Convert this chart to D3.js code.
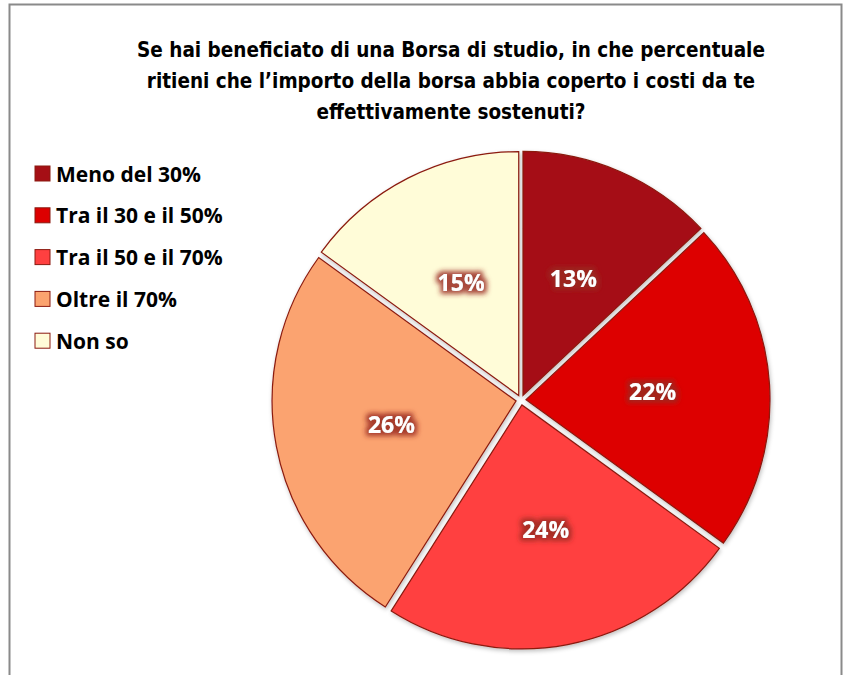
<!DOCTYPE html>
<html>
<head>
<meta charset="utf-8">
<script src="https://cdn.jsdelivr.net/npm/d3@7"></script>
<style>
  body { margin: 0; background: #fff; }
  svg { display: block; }
</style>
</head>
<body>
<svg id="chart" width="845" height="675"></svg>
<script>
// Data
var categories = ["Meno del 30%", "Tra il 30 e il 50%", "Tra il 50 e il 70%", "Oltre il 70%", "Non so"];
var values = [13, 22, 24, 26, 15];
var colors = ["#a50f15", "#dd0000", "#ff4040", "#fba36f", "#fffcd8"];
var titleLines = [
  "Se hai beneficiato di una Borsa di studio, in che percentuale",
  "ritieni che l\u2019importo della borsa abbia coperto i costi da te",
  "effettivamente sostenuti?"
];

var w = 845, h = 675;
var cx = 521, cy = 400, r = 244;
var explode = 5;

var svg = d3.select("#chart");

// frame around the chart (open at the bottom)
svg.append("path")
  .attr("d", "M9.5,675 V4.5 H841.5 V675")
  .attr("fill", "none")
  .attr("stroke", "#8a8a8a")
  .attr("stroke-width", 2);

// filter for the glow behind the slice labels
var defs = svg.append("defs");
var glow = defs.append("filter").attr("id", "glow")
  .attr("x", "-30%").attr("y", "-50%").attr("width", "160%").attr("height", "200%");
glow.append("feMorphology").attr("in", "SourceAlpha").attr("operator", "dilate").attr("radius", 2.5).attr("result", "d");
glow.append("feGaussianBlur").attr("in", "d").attr("stdDeviation", 2.5).attr("result", "b");
glow.append("feFlood").attr("flood-color", "#9a2a22").attr("flood-opacity", 0.85);
glow.append("feComposite").attr("in2", "b").attr("operator", "in").attr("result", "s");
var merge = glow.append("feMerge");
merge.append("feMergeNode").attr("in", "s");
merge.append("feMergeNode").attr("in", "SourceGraphic");

// soft bevel for slices
var bevel = defs.append("filter").attr("id", "bevel");
bevel.append("feGaussianBlur").attr("in", "SourceAlpha").attr("stdDeviation", 2).attr("result", "blur");
bevel.append("feOffset").attr("in", "blur").attr("dx", 1).attr("dy", 2).attr("result", "off");
bevel.append("feFlood").attr("flood-color", "#000").attr("flood-opacity", 0.25);
bevel.append("feComposite").attr("in2", "off").attr("operator", "in").attr("result", "shadow");
var bm = bevel.append("feMerge");
bm.append("feMergeNode").attr("in", "shadow");
bm.append("feMergeNode").attr("in", "SourceGraphic");

// Title
svg.append("text")
  .attr("x", 451)
  .attr("y", 57)
  .attr("text-anchor", "middle")
  .style("font-family", "'Liberation Sans Narrow', 'DejaVu Sans Condensed', sans-serif")
  .style("font-weight", "bold")
  .style("font-size", "20.5px")
  .attr("fill", "#000")
  .selectAll("tspan")
  .data(titleLines)
  .enter()
  .append("tspan")
  .attr("x", 451)
  .attr("dy", function (d, i) { return i === 0 ? 0 : 31; })
  .text(function (d) { return d; });

// Pie
var pie = d3.pie().sort(null).value(function (d) { return d; });
var arc = d3.arc().innerRadius(0).outerRadius(r);
var labelArc = d3.arc().innerRadius(r * 0.52).outerRadius(r * 0.52);
var arcs = pie(values);

var g = svg.append("g").attr("transform", "translate(" + cx + "," + cy + ")");

var slices = g.selectAll("g.slice")
  .data(arcs)
  .enter()
  .append("g")
  .attr("class", "slice")
  .attr("transform", function (d) {
    var a = (d.startAngle + d.endAngle) / 2;
    return "translate(" + (Math.sin(a) * explode) + "," + (-Math.cos(a) * explode) + ")";
  });

slices.append("path")
  .attr("d", arc)
  .attr("fill", function (d, i) { return colors[i]; })
  .attr("stroke", "#8b1a10")
  .attr("stroke-width", 1.2)
  .attr("filter", "url(#bevel)");

slices.append("text")
  .attr("transform", function (d) { return "translate(" + labelArc.centroid(d) + ")"; })
  .attr("text-anchor", "middle")
  .attr("dy", "0.36em")
  .style("font-family", "'Open Sans', 'DejaVu Sans', sans-serif")
  .style("font-weight", "bold")
  .style("font-size", "23px")
  .attr("fill", "#fff")
  .attr("filter", "url(#glow)")
  .text(function (d) { return d.data + "%"; });

// Legend
var legend = svg.append("g").attr("transform", "translate(35,166)");
var items = legend.selectAll("g")
  .data(categories)
  .enter()
  .append("g")
  .attr("transform", function (d, i) { return "translate(0," + (i * 41.8) + ")"; });

items.append("rect")
  .attr("width", 15)
  .attr("height", 15)
  .attr("fill", function (d, i) { return colors[i]; })
  .attr("stroke", "#8b1a10")
  .attr("stroke-width", 1);

items.append("text")
  .attr("x", 21)
  .attr("y", 8)
  .attr("dy", "0.36em")
  .style("font-family", "'Open Sans', 'DejaVu Sans', sans-serif")
  .style("font-weight", "bold")
  .style("font-size", "21px")
  .attr("fill", "#000")
  .text(function (d) { return d; });
</script>
</body>
</html>
